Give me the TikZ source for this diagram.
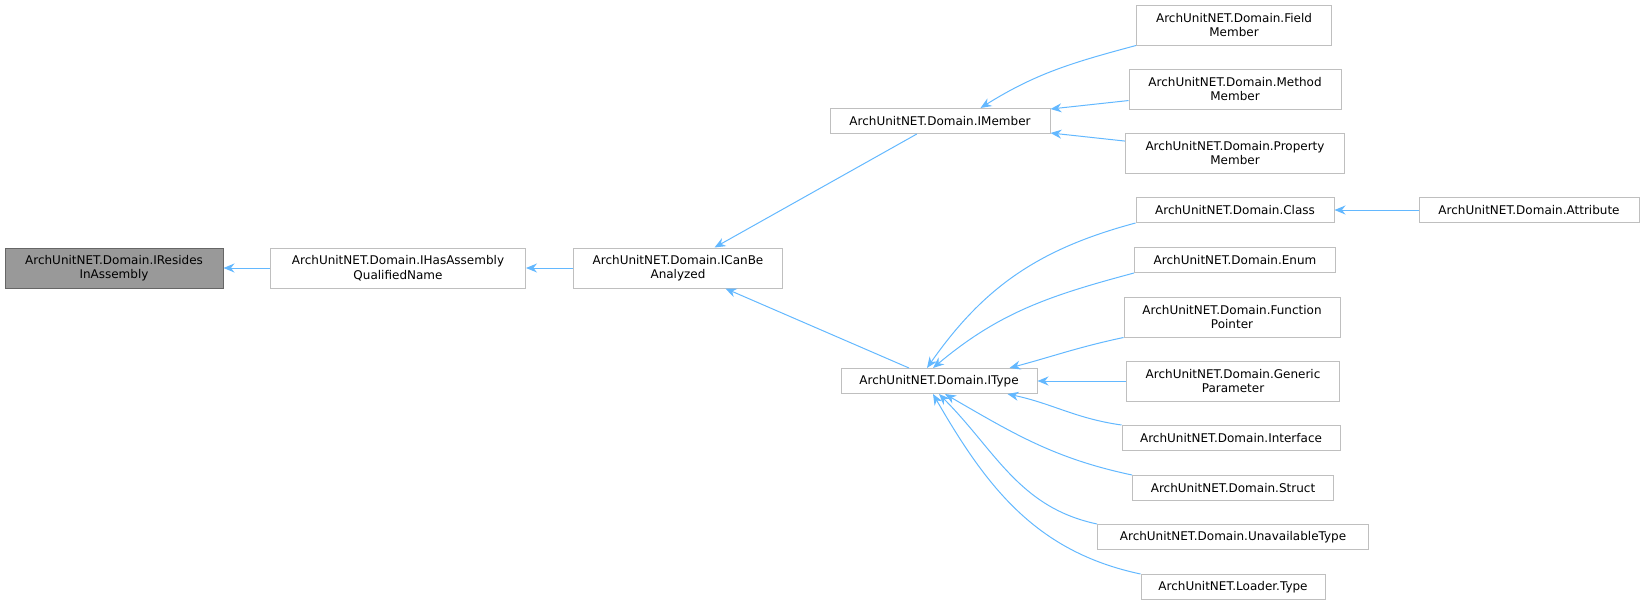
\documentclass[tikz,border=0pt]{standalone}
\usepackage{fontspec}
\setmainfont{DejaVu Sans}
\usetikzlibrary{arrows.meta}
\definecolor{edgeblue}{HTML}{63B8FF}
\definecolor{boxgray}{HTML}{BFBFBF}
\tikzset{
box/.style={rectangle, draw=boxgray, line width=0.5pt, inner sep=1pt, align=center, font=\fontsize{6}{7.3}\selectfont},
one/.style={box, minimum height=12.5pt},
two/.style={box, minimum height=20pt},
hl/.style={fill=black!40, draw=black!60},
edge/.style={draw=edgeblue, line width=0.5pt, {Stealth[length=5.5pt,width=4.5pt]}-}
}
\begin{document}
\begin{tikzpicture}[x=0.5pt,y=-0.5pt]
\useasboundingbox (0,0) rectangle (1640,605);
\node [two, hl, minimum width=109pt] (IResides) at (114,268) {ArchUnitNET.Domain.IResides\\InAssembly};
\node [two, minimum width=127.5pt] (IHas) at (398,268) {ArchUnitNET.Domain.IHasAssembly\\QualifiedName};
\node [two, minimum width=104.5pt] (ICanBe) at (678,268) {ArchUnitNET.Domain.ICanBe\\Analyzed};
\node [one, minimum width=110pt] (IMember) at (940,121) {ArchUnitNET.Domain.IMember};
\node [one, minimum width=98pt] (IType) at (939,381) {ArchUnitNET.Domain.IType};

\node [two, minimum width=97.5pt] (Field) at (1234,25) {ArchUnitNET.Domain.Field\\Member};
\node [two, minimum width=106pt] (Method) at (1235,89) {ArchUnitNET.Domain.Method\\Member};
\node [two, minimum width=109.5pt] (Property) at (1235,153) {ArchUnitNET.Domain.Property\\Member};
\node [one, minimum width=99pt] (Class) at (1235,210) {ArchUnitNET.Domain.Class};
\node [one, minimum width=110pt] (Attribute) at (1529,210) {ArchUnitNET.Domain.Attribute};
\node [one, minimum width=100.5pt] (Enum) at (1235,260) {ArchUnitNET.Domain.Enum};
\node [two, minimum width=108pt] (Function) at (1232,317) {ArchUnitNET.Domain.Function\\Pointer};
\node [two, minimum width=106.5pt] (Generic) at (1233,381) {ArchUnitNET.Domain.Generic\\Parameter};
\node [one, minimum width=109pt] (Interface) at (1231,438) {ArchUnitNET.Domain.Interface};
\node [one, minimum width=100.5pt] (Struct) at (1233,488) {ArchUnitNET.Domain.Struct};
\node [one, minimum width=135.5pt] (Unavailable) at (1233,537) {ArchUnitNET.Domain.UnavailableType};
\node [one, minimum width=92pt] (Loader) at (1233,587) {ArchUnitNET.Loader.Type};

\draw [edge] (IResides) -- (IHas);
\draw [edge] (IHas) -- (ICanBe);
\draw [edge] (ICanBe) -- (IMember);
\draw [edge] (ICanBe) -- (IType);
\draw [edge] (IMember.north east) ++(-70,0) to[out=32,in=195] (Field.south west);
\draw [edge] (IMember) -- (Method);
\draw [edge] (IMember) -- (Property);
\draw [edge] (Class) -- (Attribute);
\draw [edge] (IType.north) ++(-12,0) to[out=55,in=195] (Class.south west);
\draw [edge] (IType.north) ++(-6,0) to[out=40,in=195] (Enum.south west);
\draw [edge] (IType.north east) ++(-28,0) to[out=15,in=192] (Function.south west);
\draw [edge] (IType) -- (Generic);
\draw [edge] (IType.south east) ++(-30,0) to[out=-12,in=172] (Interface.north west);
\draw [edge] (IType.south) ++(6,0) to[out=-30,in=168] (Struct.north west);
\draw [edge] (IType.south) ++(0,0) to[out=-45,in=168] (Unavailable.north west);
\draw [edge] (IType.south) ++(-6,0) to[out=-60,in=168] (Loader.north west);
\end{tikzpicture}
\end{document}
